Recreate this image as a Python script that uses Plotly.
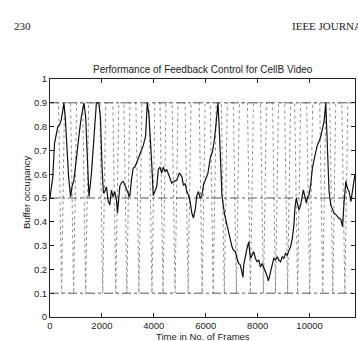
import plotly.graph_objects as go

# ---------------- data ----------------
frames = [0, 39, 108, 174, 240, 302, 368, 433, 495, 534, 588, 666, 716, 793, 844, 921, 1014, 1076, 1142, 1207,
          1269, 1308, 1374, 1424, 1463, 1502, 1594, 1656, 1722, 1788, 1877, 1943, 2005, 2059, 2109, 2175, 2237,
          2303, 2368, 2430, 2496, 2562, 2601, 2651, 2690, 2755, 2817, 2883, 2949, 3011, 3050, 3077, 3142, 3204,
          3270, 3336, 3398, 3464, 3529, 3591, 3684, 3746, 3812, 3851, 3916, 3978, 4044, 4110, 4172, 4238, 4303,
          4365, 4431, 4497, 4598, 4690, 4779, 4884, 4985, 5077, 5139, 5205, 5271, 5333, 5399, 5464, 5526, 5592,
          5658, 5720, 5786, 5851, 5913, 6006, 6084, 6134, 6184, 6262, 6339, 6405, 6471, 6521, 6560, 6625, 6726,
          6819, 6881, 6947, 7012, 7074, 7140, 7206, 7268, 7334, 7399, 7438, 7461, 7527, 7593, 7655, 7721, 7786,
          7848, 7914, 7980, 8042, 8108, 8173, 8235, 8301, 8367, 8417, 8495, 8560, 8622, 8688, 8754, 8816, 8882,
          8947, 9009, 9075, 9141, 9203, 9269, 9334, 9396, 9435, 9489, 9528, 9590, 9656, 9721, 9760, 9822, 9876,
          9927, 9977, 10043, 10108, 10170, 10236, 10302, 10364, 10430, 10495, 10557, 10623, 10689, 10751, 10817,
          10882, 10944, 11010, 11076, 11138, 11204, 11269, 11331, 11397, 11463, 11525, 11591, 11656, 11718, 11750]
occupancy = [0.50, 0.53, 0.59, 0.73, 0.77, 0.80, 0.807, 0.828, 0.87, 0.90, 0.84, 0.70, 0.59, 0.505, 0.547, 0.575,
             0.673, 0.73, 0.786, 0.84, 0.89, 0.90, 0.84, 0.70, 0.59, 0.505, 0.60, 0.70, 0.814, 0.90, 0.90, 0.84,
             0.63, 0.52, 0.527, 0.547, 0.49, 0.47, 0.533, 0.505, 0.527, 0.49, 0.437, 0.50, 0.55, 0.565, 0.57, 0.555,
             0.54, 0.52, 0.505, 0.51, 0.58, 0.625, 0.63, 0.645, 0.665, 0.685, 0.70, 0.72, 0.76, 0.90, 0.85, 0.79,
             0.65, 0.51, 0.527, 0.547, 0.62, 0.63, 0.605, 0.63, 0.61, 0.62, 0.59, 0.563, 0.57, 0.575, 0.605, 0.59,
             0.555, 0.56, 0.527, 0.513, 0.484, 0.437, 0.416, 0.45, 0.51, 0.527, 0.50, 0.51, 0.555, 0.583, 0.604,
             0.64, 0.673, 0.695, 0.75, 0.82, 0.90, 0.79, 0.65, 0.51, 0.43, 0.386, 0.345, 0.316, 0.295, 0.28, 0.275,
             0.246, 0.225, 0.218, 0.176, 0.167, 0.218, 0.26, 0.29, 0.316, 0.246, 0.26, 0.275, 0.246, 0.232, 0.24,
             0.21, 0.225, 0.204, 0.19, 0.17, 0.152, 0.19, 0.218, 0.246, 0.24, 0.253, 0.24, 0.232, 0.253, 0.246,
             0.267, 0.26, 0.28, 0.295, 0.33, 0.386, 0.456, 0.50, 0.478, 0.45, 0.47, 0.513, 0.534, 0.505, 0.478,
             0.505, 0.513, 0.555, 0.625, 0.66, 0.695, 0.723, 0.737, 0.758, 0.79, 0.82, 0.90, 0.723, 0.527, 0.47,
             0.45, 0.436, 0.43, 0.42, 0.415, 0.41, 0.38, 0.485, 0.57, 0.54, 0.527, 0.485, 0.527, 0.57, 0.60]

thresholds = [0.1, 0.5, 0.9]
# times where the dotted control trace dips from the upper to the lower threshold
dip_times = [445, 909, 1374, 2032, 2535, 2961, 3425, 3928, 4354, 4818, 5321, 5863, 6289, 6715, 7179,
             7721, 8224, 8688, 9153, 9540, 10004, 10507, 10894, 11359]
dip_halfwidth = 115

x_ticks = [0, 2000, 4000, 6000, 8000, 10000]
x_tick_labels = ["0", "2000", "4000", "6000", "8000", "10000"]
y_ticks = [0, 0.1, 0.2, 0.3, 0.4, 0.5, 0.6, 0.7, 0.8, 0.9, 1]
y_tick_labels = ["0", "0.1", "0.2", "0.3", "0.4", "0.5", "0.6", "0.7", "0.8", "0.9", "1"]
x_max = 11750

# ---------------- figure ----------------
W, H = 358, 341
L, R, T, B = 50, 3, 79, 24
pw, ph = W - L - R, H - T - B


def px(x):
    return (x - L) / pw


def py(y):
    return (H - B - y) / ph


fig = go.Figure()

# dotted control trace (V dips from upper to lower threshold)
cx, cy = [0], [thresholds[2]]
for d in dip_times:
    cx += [d - dip_halfwidth, d, d + dip_halfwidth]
    cy += [thresholds[2], thresholds[0], thresholds[2]]
cx.append(x_max)
cy.append(thresholds[2])
fig.add_trace(go.Scatter(x=cx, y=cy, mode="lines",
                         line=dict(color="#8f8f8f", width=1, dash="dot"),
                         showlegend=False, hoverinfo="skip"))

# dash-dot threshold lines
for t in thresholds:
    fig.add_trace(go.Scatter(x=[0, x_max], y=[t, t], mode="lines",
                             line=dict(color="#555555", width=1, dash="dashdot"),
                             showlegend=False, hoverinfo="skip"))

# buffer occupancy
fig.add_trace(go.Scatter(x=frames, y=occupancy, mode="lines",
                         line=dict(color="#111111", width=1.2),
                         showlegend=False))

sans = "Liberation Sans, Arial"
serif = "Liberation Serif, Times New Roman"

axis_common = dict(showline=True, linecolor="#222222", linewidth=1, mirror="ticks",
                   ticks="inside", ticklen=4, tickcolor="#222222", showgrid=False,
                   zeroline=False, tickfont=dict(family=sans, size=9.5, color="#222222"))

fig.update_xaxes(range=[0, x_max], tickvals=x_ticks, ticktext=x_tick_labels, **axis_common)
fig.update_yaxes(range=[0, 1], tickvals=y_ticks, ticktext=y_tick_labels, **axis_common)

annotations = [
    dict(text="Performance of Feedback Control for CellB Video", x=px(203), y=py(70),
         font=dict(family=sans, size=10, color="#222222"), xanchor="center", yanchor="middle"),
    dict(text="Time in No. of Frames", x=px(203), y=py(336),
         font=dict(family=sans, size=9.5, color="#222222"), xanchor="center", yanchor="middle"),
    dict(text="Buffer occupancy", x=px(26), y=py(192), textangle=-90,
         font=dict(family=sans, size=9.5, color="#222222"), xanchor="center", yanchor="middle"),
    dict(text="230", x=px(12), y=py(26),
         font=dict(family=serif, size=11, color="#222222"), xanchor="left", yanchor="middle"),
    dict(text="IEEE JOURNAL", x=px(290), y=py(26),
         font=dict(family=serif, size=11, color="#222222"), xanchor="left", yanchor="middle"),
]
for a in annotations:
    a.update(xref="paper", yref="paper", showarrow=False)

fig.update_layout(width=W, height=H, margin=dict(l=L, r=R, t=T, b=B, pad=0),
                  paper_bgcolor="white", plot_bgcolor="white", annotations=annotations,
                  showlegend=False)

fig.write_html("out.html", config={"displayModeBar": False})
